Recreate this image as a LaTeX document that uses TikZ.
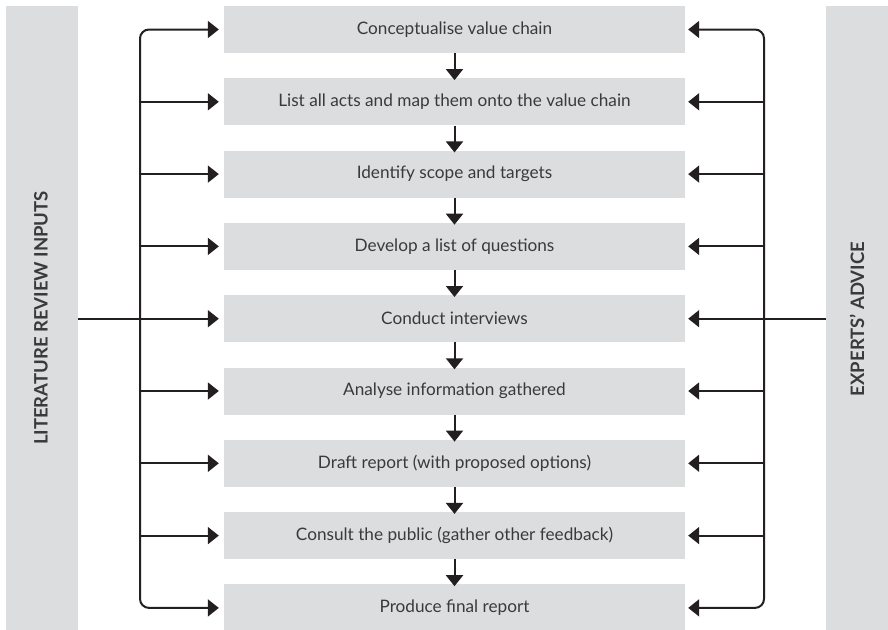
\documentclass[tikz,border=0pt]{standalone}
\usepackage{fontspec}
\setmainfont{Lato}
\usetikzlibrary{arrows.meta,calc}
\definecolor{boxgray}{HTML}{DCDDDF}
\definecolor{txt}{HTML}{3A3A3A}
\definecolor{ln}{HTML}{231F20}
\tikzset{
  stepbox/.style={fill=boxgray, draw=none, minimum width=461pt, minimum height=47pt, inner sep=0pt,
    font=\fontsize{17.2}{20}\selectfont, text=txt},
  sidebar/.style={fill=boxgray, draw=none, inner sep=0pt},
  sidelabel/.style={font=\fontsize{18.5}{22}\selectfont\bfseries, text=txt, rotate=90},
  arr/.style={draw=ln, line width=2pt, -{Triangle[length=11pt,width=17pt]}},
  arrboth/.style={draw=ln, line width=2pt, {Triangle[length=11pt,width=17pt]}-{Triangle[length=11pt,width=17pt]}, rounded corners=9pt},
}
\begin{document}
\begin{tikzpicture}[x=1pt,y=-1pt]
\useasboundingbox (0,0) rectangle (888,629);
% side bars
\node[sidebar, minimum width=72pt, minimum height=640pt, anchor=north west] (L) at (6,6) {};
\node[sidebar, minimum width=70pt, minimum height=640pt, anchor=north west] (R) at (826,6) {};
\node[sidelabel] (Lt) at (41,318) {LITERATURE REVIEW INPUTS};
\node[sidelabel] (Rt) at (857,319) {EXPERTS’ ADVICE};
% step boxes
\node[stepbox] (b1) at (454.5, 29.5) {Conceptualise value chain};
\node[stepbox] (b2) at (454.5, 101.8) {List all acts and map them onto the value chain};
\node[stepbox] (b3) at (454.5, 174.1) {Identify scope and targets};
\node[stepbox] (b4) at (454.5, 246.4) {Develop a list of questions};
\node[stepbox] (b5) at (454.5, 318.7) {Conduct interviews};
\node[stepbox] (b6) at (454.5, 391.0) {Analyse information gathered};
\node[stepbox] (b7) at (454.5, 463.3) {Draft report (with proposed options)};
\node[stepbox] (b8) at (454.5, 535.6) {Consult the public (gather other feedback)};
\node[stepbox] (b9) at (454.5, 607.9) {Produce final report};
% spines
\coordinate (sl) at (140,318.7);
\coordinate (sr) at (764,318.7);
% down arrows
\foreach \a/\b in {b1/b2,b2/b3,b3/b4,b4/b5,b5/b6,b6/b7,b7/b8,b8/b9}{
  \draw[arr] (\a.south) -- ([yshift=-2pt]\b.north);
}
% left side
\draw[arrboth] ([xshift=-5pt]b1.west) -| (sl) |- ([xshift=-5pt]b9.west);
\foreach \n in {b2,b3,b4,b6,b7,b8}{
  \draw[arr] (sl |- \n.west) -- ([xshift=-5pt]\n.west);
}
\draw[arr] (L.east |- b5.west) -- ([xshift=-5pt]b5.west);
% right side
\draw[arrboth] ([xshift=3pt]b1.east) -| (sr) |- ([xshift=3pt]b9.east);
\foreach \n in {b2,b3,b4,b6,b7,b8}{
  \draw[arr] (sr |- \n.east) -- ([xshift=3pt]\n.east);
}
\draw[arr] (R.west |- b5.east) -- ([xshift=3pt]b5.east);
\end{tikzpicture}
\end{document}
